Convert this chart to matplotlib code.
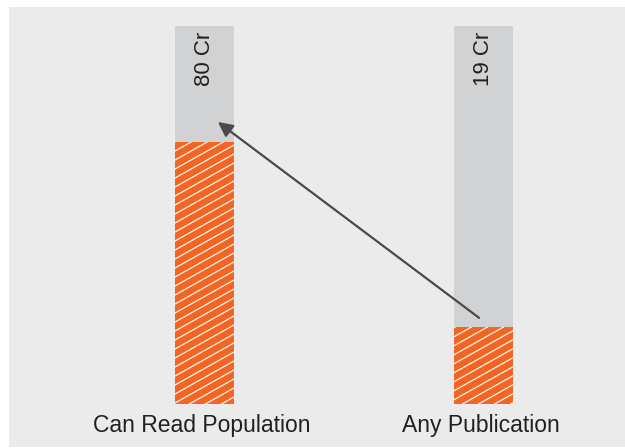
import matplotlib
matplotlib.use("Agg")
import numpy as np
import matplotlib.pyplot as plt
from matplotlib.patches import Rectangle
from matplotlib.collections import LineCollection

# data
categories = ["Can Read Population", "Any Publication"]
crore_labels = ["80 Cr", "19 Cr"]
full_share = [1.0, 1.0]        # grey background bar
orange_share = [0.693, 0.204]  # hatched orange part of each bar
arrow_start = (1, 0.228)       # from the small bar ...
arrow_end = (0, 0.746)         # ... up to the big one

GREY = "#d1d2d4"
ORANGE = "#f26522"
PANEL = "#ebebeb"
TEXT = "#231f20"

plt.rcParams["font.family"] = ["Liberation Sans", "DejaVu Sans"]

W, H = 6.25, 4.48
fig = plt.figure(figsize=(W, H), dpi=100)
fig.patch.set_facecolor("white")
fig.patches.append(Rectangle((9 / 625, 1 / 448), 616 / 625, 440 / 448,
                             transform=fig.transFigure, facecolor=PANEL,
                             edgecolor="none", zorder=-10))

ax = fig.add_axes([65 / 625, 44 / 448, 558 / 625, 378 / 448])
ax.set_facecolor("none")
x = range(len(categories))
bar_w = 0.211

ax.bar(x, full_share, width=bar_w, color=GREY, linewidth=0)
orange = ax.bar(x, orange_share, width=bar_w, color=ORANGE, linewidth=0)

# shallow diagonal hatch (matplotlib hatches are only 45 deg), clipped to each bar
slope, gap = 0.56, 0.09
starts = np.arange(-slope * W, H, gap)
segs = [[(0, b), (W, b + slope * W)] for b in starts]
for patch in orange:
    lc = LineCollection(segs, transform=fig.dpi_scale_trans, colors="#fff3ec",
                        linewidths=0.9)
    ax.add_collection(lc, autolim=False)
    lc.set_clip_path(patch)

for i, (cat, lab) in enumerate(zip(categories, crore_labels)):
    ax.annotate(lab, (i, full_share[i]), xytext=(0, -4), textcoords="offset points",
                rotation=90, ha="center", va="top", fontsize=16, color=TEXT)
    ax.annotate(cat, (i, 0), xytext=(-2, -20), textcoords="offset points",
                ha="center", va="baseline", fontsize=16.5, color=TEXT)

ax.annotate("", xy=(arrow_end[0] + 0.048, arrow_end[1]),
            xytext=(arrow_start[0] - 0.016, arrow_start[1]),
            arrowprops=dict(arrowstyle="-|>", color="#4a4a4a", lw=1.6,
                            mutation_scale=22, shrinkA=0, shrinkB=0,
                            capstyle="round"))

ax.set_xlim(-0.5, 1.5)
ax.set_ylim(0, 1)
ax.axis("off")

fig.savefig("out.png", dpi=100)
